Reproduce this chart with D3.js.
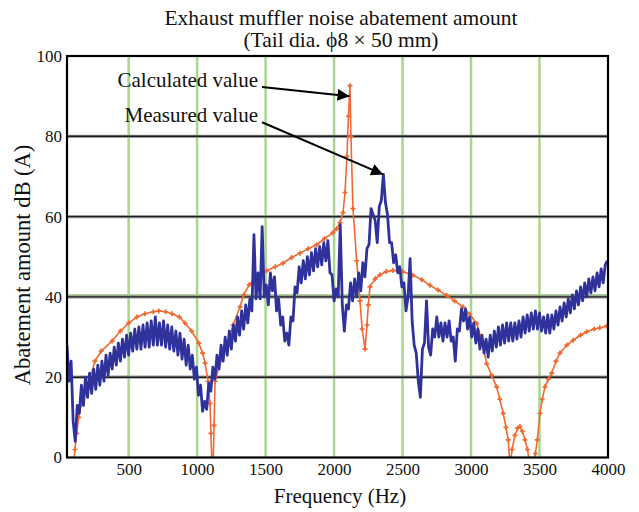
<!DOCTYPE html>
<html>
<head>
<meta charset="utf-8">
<script src="https://cdn.jsdelivr.net/npm/d3@7"></script>
<style>
  body { margin: 0; background: #fff; }
  text { font-family: "Liberation Serif", "Times New Roman", serif; fill: #111; }
</style>
</head>
<body>
<script>
// calculated value: [Hz, dB]
const calcHz = [95, 108, 120, 135, 150, 175, 208, 254, 300, 379, 440, 500, 560, 620, 680, 720, 770, 817, 870, 911,
  960, 1012, 1040, 1058, 1080, 1094, 1101, 1109, 1116, 1124, 1131, 1170, 1216, 1262, 1313, 1340, 1380, 1435, 1508, 1570,
  1627, 1690, 1751, 1810, 1873, 1930, 1992, 2020, 2043, 2065, 2080, 2094, 2105, 2116, 2123, 2138, 2165, 2189, 2205, 2226,
  2240, 2250, 2262, 2300, 2335, 2380, 2430, 2500, 2576, 2640, 2700, 2760, 2822, 2880, 2941, 2990, 3041, 3080, 3114, 3150,
  3187, 3210, 3235, 3255, 3272, 3284, 3300, 3320, 3340, 3357, 3375, 3394, 3412, 3430, 3452, 3470, 3484, 3503, 3520, 3540,
  3565, 3589, 3620, 3649, 3700, 3746, 3800, 3844, 3900, 3940, 3990];
const calcDB = [-2, 2, 6, 10, 13, 16, 18.5, 24, 26.5, 29, 31.5, 33.5, 35, 35.8, 36.3, 36.5, 36.3, 35.8, 35, 33.5,
  31.5, 28.5, 26, 23.5, 19, 13.5, 6, -3, -3, 8, 19, 24, 27.5, 33, 37.5, 40.5, 43, 45, 46.5, 47.5,
  48.4, 49.8, 50.9, 52, 53, 54.5, 56, 57, 58.5, 61, 66, 75, 85, 92.6, 80, 62, 49, 39, 32, 27,
  33, 38, 42.5, 44.5, 45.5, 46.3, 46.6, 46.3, 45.4, 44.3, 42.9, 41.7, 40.4, 39, 37.5, 35.7, 33.4, 29, 23.4, 20.5,
  17.6, 14.5, 11, 7.5, 4.4, -2, 2, 5.5, 7.3, 7.7, 6.5, 4.4, 2, -2, -2, 1, 4.4, 11, 14.5, 17.6,
  19.5, 21, 24, 26, 28, 29.2, 30.5, 31.3, 32, 32.3, 32.7];

// measured value: one reading per 15 Hz bin starting at 50 Hz
const measStartHz = 50;
const measStepHz = 15;
const measDB = [
  28, 19, 24, 9, 4, 13, 11, 18, 13, 20, 15, 21, 16, 22, 17, 23, 18, 24, 19, 25.5,
  20.5, 26, 22, 27.5, 23, 28.5, 24, 29.5, 25, 30.5, 25.5, 31, 26.5, 32, 27, 32.5, 27, 33, 27.5, 33.5,
  27.5, 34, 28, 35, 28, 33.5, 28, 34, 27.5, 33, 27, 32.5, 26.5, 31.5, 25.5, 31, 24.5, 29.5, 23, 28,
  22, 25.5, 19.5, 22.5, 15.5, 18, 11.5, 14, 12, 18.5, 16.5, 22.5, 19.5, 25.5, 22, 28, 24, 30, 25.5, 31.5,
  27, 33, 29, 35, 30.5, 36.5, 32, 38, 33.5, 39.5, 36.5, 55.5, 39.5, 46, 39.5, 57.5, 40, 43, 38, 46,
  41.5, 45, 36.5, 39.5, 33, 35, 29, 31, 28, 35, 34, 42.5, 41, 47.5, 43.5, 49, 44.5, 50, 45.5, 51,
  46.5, 52, 47.5, 52.5, 48, 53.5, 49, 54, 46, 45.5, 39, 42, 40, 58, 38, 31.5, 38, 37, 43.5, 39,
  44.5, 40, 46, 41.5, 48.5, 45, 52, 53, 62, 60.5, 59, 53.5, 62.5, 64, 70.5, 63.5, 60.5, 53.5, 53.5, 48.5,
  50.5, 46, 47.5, 42.5, 43.5, 36.5, 40, 49.5, 34, 28, 26, 19, 15, 27, 28.5, 39, 27.5, 25.5, 32, 30,
  35, 30, 33.5, 29, 33.5, 30, 34, 29, 30, 24, 32, 31.5, 37, 34, 37, 32, 35, 30, 33.5, 28.5,
  32, 27, 30.5, 26, 29.5, 25, 30.5, 26.5, 31.5, 27.5, 32.5, 28, 33, 28.5, 33.5, 29, 33.5, 29, 33.5, 29.5,
  34, 30, 35, 31, 35.5, 31.5, 36, 32, 36.5, 32, 36, 31.5, 35, 31, 35.5, 31, 35.5, 32, 36.5, 33,
  37.5, 34, 38.5, 35, 39.5, 36, 40.5, 37, 41.5, 38, 42.5, 39, 43.5, 40, 44.5, 41, 45, 41.5, 46, 42.5,
  47, 43.5, 48, 49];

// axis ticks
const xTicks = [500, 1000, 1500, 2000, 2500, 3000, 3500, 4000];
const yTicks = [0, 20, 40, 60, 80, 100];

// labels
const titleLines = ["Exhaust muffler noise abatement amount", "(Tail dia. \u03d58 \u00d7 50 mm)"];
const notes = [
  { text: "Calculated value", at: [1474, 92.3], to: [2113, 90] },
  { text: "Measured value", at: [1474, 83.5], to: [2358, 70.5] }
];

const width = 639;
const height = 512;
const margin = { top: 56, right: 31, bottom: 54.5, left: 67 };

const svg = d3.select("body").append("svg")
  .attr("width", width)
  .attr("height", height);

const x = d3.scaleLinear().domain([50, 4000]).range([margin.left, width - margin.right]);
const y = d3.scaleLinear().domain([0, 100]).range([height - margin.bottom, margin.top]);

const orange = "#ef6a32";
const blue = "#30329c";

svg.append("defs").append("clipPath").attr("id", "plot")
  .append("rect")
  .attr("x", margin.left).attr("y", margin.top)
  .attr("width", x.range()[1] - margin.left)
  .attr("height", y.range()[0] - margin.top);

svg.select("defs").append("marker")
  .attr("id", "head")
  .attr("viewBox", "0 0 10 10")
  .attr("refX", 10).attr("refY", 5)
  .attr("markerWidth", 7).attr("markerHeight", 6)
  .attr("markerUnits", "strokeWidth")
  .attr("orient", "auto")
  .append("path").attr("d", "M0,0L10,5L0,10z").attr("fill", "#000");

//green vertical grid
svg.append("g")
  .selectAll("line")
  .data(xTicks.slice(0, -1))
  .enter().append("line")
  .attr("x1", d => x(d)).attr("x2", d => x(d))
  .attr("y1", margin.top).attr("y2", y(0))
  .attr("stroke", "#a9d68e")
  .attr("stroke-width", 2.5);

//green line along 40
svg.append("line")
  .attr("x1", margin.left).attr("x2", x.range()[1])
  .attr("y1", y(40) - 2).attr("y2", y(40) - 2)
  .attr("stroke", "#a9d68e").attr("stroke-width", 2);

//dark horizontal grid
const hGrid = svg.append("g");
hGrid.selectAll("line.halo")
  .data(yTicks.slice(1, -1))
  .enter().append("line")
  .attr("class", "halo")
  .attr("x1", margin.left).attr("x2", x.range()[1])
  .attr("y1", d => y(d)).attr("y2", d => y(d))
  .attr("stroke", "#9a9a9a").attr("stroke-width", 3.2);
hGrid.selectAll("line.core")
  .data(yTicks.slice(1, -1))
  .enter().append("line")
  .attr("class", "core")
  .attr("x1", margin.left).attr("x2", x.range()[1])
  .attr("y1", d => y(d)).attr("y2", d => y(d))
  .attr("stroke", "#1e1e1e").attr("stroke-width", 1.4);

// series
const calc = calcHz.map((h, i) => [h, calcDB[i]]);
const meas = measDB.map((v, i) => [measStartHz + i * measStepHz, v]);

const line = d3.line().x(d => x(d[0])).y(d => y(d[1]));
const plot = svg.append("g").attr("clip-path", "url(#plot)");

plot.append("path")
  .datum(calc)
  .attr("d", line)
  .attr("fill", "none")
  .attr("stroke", orange)
  .attr("stroke-width", 1.6);

plot.selectAll("path.mk")
  .data(calc)
  .enter().append("path")
  .attr("class", "mk")
  .attr("transform", d => `translate(${x(d[0])},${y(d[1])})`)
  .attr("d", d3.symbol(d3.symbolCross).size(14))
  .attr("fill", orange);

plot.append("path")
  .datum(meas)
  .attr("d", line)
  .attr("fill", "none")
  .attr("stroke", blue)
  .attr("stroke-width", 2.8)
  .attr("stroke-linejoin", "round");

// frame
svg.append("rect")
  .attr("x", margin.left).attr("y", margin.top)
  .attr("width", x.range()[1] - margin.left)
  .attr("height", y.range()[0] - margin.top)
  .attr("fill", "none")
  .attr("stroke", "#000")
  .attr("stroke-width", 2.2);

// axes, tick labels only
const xAxis = svg.append("g")
  .attr("transform", `translate(0,${y(0)})`)
  .call(d3.axisBottom(x).tickValues(xTicks).tickFormat(d3.format("d")).tickSize(0).tickPadding(5));
const yAxis = svg.append("g")
  .attr("transform", `translate(${margin.left},0)`)
  .call(d3.axisLeft(y).tickValues(yTicks).tickFormat(d3.format("d")).tickSize(0).tickPadding(5));
[xAxis, yAxis].forEach(g => {
  g.select(".domain").remove();
  g.selectAll("text")
    .style("font-family", '"Liberation Serif", serif')
    .style("font-size", "17px")
    .attr("fill", "#111");
});

// title
svg.selectAll("text.title")
  .data(titleLines)
  .enter().append("text")
  .attr("class", "title")
  .attr("x", 341)
  .attr("y", (d, i) => 25 + i * 22)
  .attr("text-anchor", "middle")
  .style("font-size", "21.5px")
  .text(d => d);

// axis titles
svg.append("text")
  .attr("x", 340).attr("y", 503)
  .attr("text-anchor", "middle")
  .style("font-size", "21px")
  .text("Frequency (Hz)");

svg.append("text")
  .attr("transform", "translate(30,265) rotate(-90)")
  .attr("text-anchor", "middle")
  .style("font-size", "22.5px")
  .text("Abatement amount dB (A)");

// annotations
notes.forEach(n => {
  svg.append("text")
    .attr("x", x(n.at[0]) - 4).attr("y", y(n.at[1]))
    .attr("text-anchor", "end")
    .style("font-size", "21px")
    .text(n.text);
  svg.append("line")
    .attr("x1", x(n.at[0])).attr("y1", y(n.at[1]))
    .attr("x2", x(n.to[0])).attr("y2", y(n.to[1]))
    .attr("stroke", "#000")
    .attr("stroke-width", 2)
    .attr("marker-end", "url(#head)");
});
</script>
</body>
</html>
